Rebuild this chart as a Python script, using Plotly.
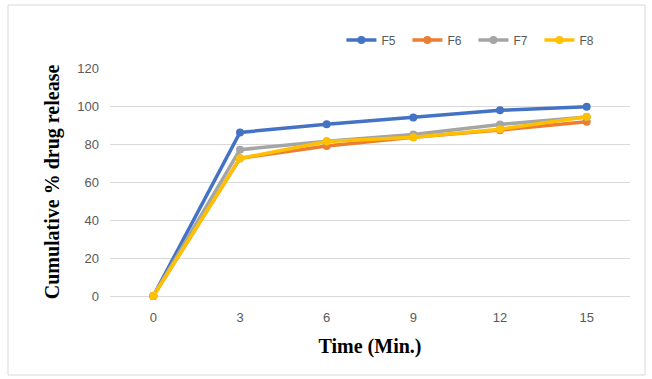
import plotly.graph_objects as go

time_labels = ["0", "3", "6", "9", "12", "15"]
f5 = [0, 86.1, 90.4, 94.0, 97.7, 99.6]
f6 = [0, 72.5, 78.9, 83.6, 87.3, 91.7]
f7 = [0, 77.0, 81.5, 85.0, 90.3, 94.2]
f8 = [0, 72.4, 81.3, 83.6, 87.8, 94.3]
series = [("F5", f5, "#4472C4"), ("F6", f6, "#ED7D31"), ("F7", f7, "#A5A5A5"), ("F8", f8, "#FFC000")]

fig = go.Figure()
for name, vals, col in series:
    fig.add_trace(go.Scatter(
        x=time_labels, y=vals, name=name, mode="lines+markers",
        line=dict(color=col, width=3.5), marker=dict(color=col, size=8),
        cliponaxis=False,
    ))

title_font = dict(family="Liberation Serif, Times New Roman", size=20, color="black", weight="bold")

fig.update_layout(
    width=652, height=379,
    margin=dict(l=110, r=22, t=68, b=83, autoexpand=False),
    paper_bgcolor="white", plot_bgcolor="white",
    font=dict(family="Liberation Sans, Arial", size=12, color="#595959"),
    showlegend=True,
    legend=dict(orientation="h", x=0.445, y=1.123, xanchor="left", yanchor="middle",
                font=dict(size=12, color="#595959"), itemwidth=30, entrywidth=21,
                entrywidthmode="pixels", bgcolor="rgba(0,0,0,0)"),
    xaxis=dict(type="category", range=[-0.5, 5.5], showgrid=False, showline=False,
               ticks="", tickfont=dict(size=13, color="#595959"), ticklabelstandoff=12,
               title=dict(text="Time (Min.)", standoff=14, font=title_font)),
    yaxis=dict(range=[0, 120], dtick=20, showgrid=True, gridcolor="#D9D9D9", gridwidth=1,
               zeroline=True, zerolinecolor="#D9D9D9", zerolinewidth=1, showline=False, ticks="",
               tickfont=dict(size=13, color="#595959"), ticklabelstandoff=10,
               title=dict(text="Cumulative % drug release", standoff=12, font=title_font)),
    shapes=[dict(type="rect", xref="paper", yref="paper",
                 x0=(8 - 110) / 520, x1=(645 - 110) / 520,
                 y0=(296 - 375) / 228, y1=(296 - 5) / 228,
                 line=dict(color="#D9D9D9", width=1), fillcolor="rgba(0,0,0,0)", layer="below")],
)

fig.write_html("out.html", config={"displayModeBar": False},
               post_script="document.body.style.margin='0';document.body.style.overflow='hidden';")
